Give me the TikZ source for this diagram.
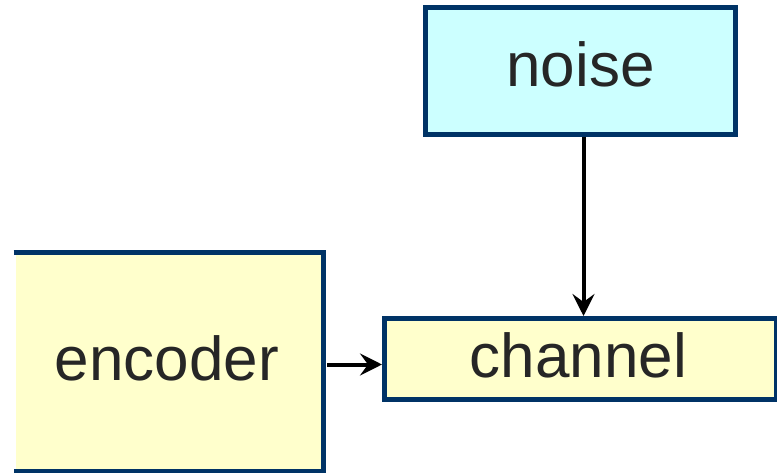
\documentclass[tikz,border=0pt]{standalone}
\usepackage{fontspec}
\setmainfont{Liberation Sans}
\usetikzlibrary{arrows.meta}
\definecolor{bord}{HTML}{003366}
\definecolor{cyanfill}{HTML}{CCFFFF}
\definecolor{yelfill}{HTML}{FFFFCC}
\definecolor{txt}{HTML}{262626}
\begin{document}
\begin{tikzpicture}[x=1pt,y=1pt,
  boxstyle/.style={draw=bord,line width=5pt,inner sep=0pt,text=txt,font=\fontsize{62}{70}\selectfont,text depth=0pt},
  arr/.style={line width=4pt,-{Stealth[length=22pt,width=22pt,inset=8pt]}}]
\useasboundingbox (0,0) rectangle (777,472);
\node[boxstyle,fill=cyanfill,minimum width=310pt,minimum height=127pt,text height=32pt] (noise) at (580.5,401) {noise};
\node[boxstyle,fill=yelfill,minimum width=391.5pt,minimum height=81pt,text height=36pt] (channel) at (580.25,113) {\hspace*{-4pt}channel};
\node[boxstyle,draw=none,fill=yelfill,minimum width=307.5pt,minimum height=221.5pt,text height=34.5pt] (encoder) at (169.75,109.25) {\hspace*{-6pt}encoder};
\coordinate (vx) at (583.5,0);
\coordinate (hy) at (0,107.5);
\draw[arr] ([xshift=1pt]hy -| encoder.east) -- (hy -| channel.west);
\draw[bord,line width=5pt] (encoder.west |- 0,219.5) -- (323.5,219.5) -- (323.5,0.5) -- (encoder.west |- 0,0.5);
\draw[arr] (noise.south -| vx) -- (channel.north -| vx);
\end{tikzpicture}
\end{document}
